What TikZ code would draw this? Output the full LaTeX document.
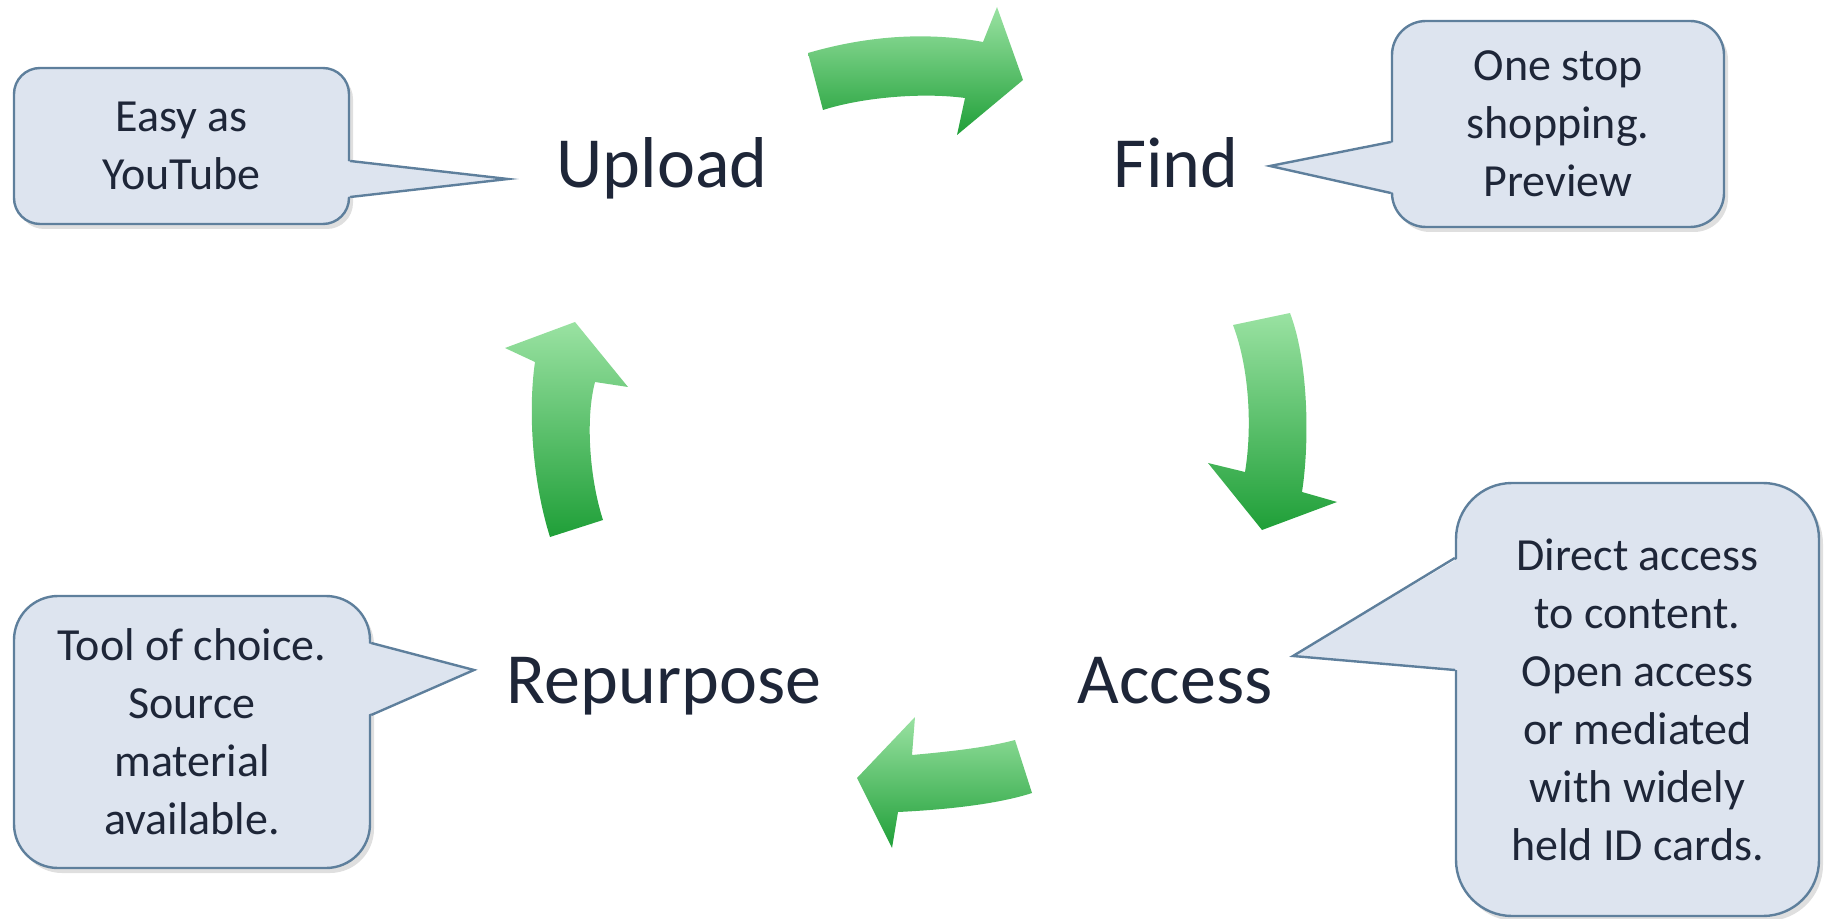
\documentclass[tikz,border=0pt]{standalone}
\usepackage{fontspec}
\setmainfont{Carlito}
\usetikzlibrary{calc,shadows}
\definecolor{bubblefill}{HTML}{DDE4EF}
\definecolor{bubbleline}{HTML}{5E7F9C}
\definecolor{inkblue}{HTML}{1E2638}
\definecolor{greenlight}{HTML}{9AE2A2}
\definecolor{greendark}{HTML}{1F9F38}
\tikzstyle{stage} = [text=inkblue, font=\fontsize{36}{43}\selectfont, anchor=base, inner sep=0pt]
\tikzstyle{bubble} = [draw=bubbleline, fill=bubblefill, line width=1.2pt, align=center, text=inkblue, font=\fontsize{23}{29}\selectfont, inner sep=0pt, drop shadow={shadow xshift=2pt, shadow yshift=-2.5pt, opacity=0.25}]
\tikzstyle{beak} = [fill=bubblefill]
\tikzstyle{beakline} = [draw=bubbleline, line width=1.2pt, line join=miter]
\tikzstyle{greenbend} = [top color=greenlight, bottom color=greendark, draw=none]

\begin{document}
\begin{tikzpicture}[x=0.5pt,y=-0.5pt]
      \useasboundingbox (0,0) rectangle (1826,919);
      % the four stages
      \node[stage] (upload) at (662,188) {Upload};
      \node[stage] (find) at (1176,188) {Find};
      \node[stage] (access) at (1175,703) {Access};
      \node[stage] (repurpose) at (664,703) {Repurpose};
      % bubbles
      \node[bubble, rounded corners=13pt, minimum width=167.5pt, minimum height=78pt] (easy) at (181.5,146) {Easy as\\YouTube};
      \node[bubble, rounded corners=17pt, minimum width=166pt, minimum height=103pt] (onestop) at (1558,124) {One stop\\shopping.\\Preview};
      \node[bubble, rounded corners=28pt, minimum width=181.5pt, minimum height=216.5pt] (direct) at (1637.5,699.5) {Direct access\\to content.\\Open access\\or mediated\\with widely\\held ID cards.};
      \node[bubble, rounded corners=22pt, minimum width=178pt, minimum height=136pt] (tool) at (192,732) {Tool of choice.\\Source\\material\\available.};
      \coordinate (tipU) at (508,179);
      \coordinate (tipF) at (1270,166);
      \coordinate (tipA) at (1293,656);
      \coordinate (tipR) at (474,670);
      % pointers
      \fill[beak] ($(easy.east)+(-4,15)$) -- (tipU) -- ($(easy.east)+(-4,51)$) -- cycle;
      \draw[beakline] ($(easy.east)+(0,15)$) -- (tipU) -- ($(easy.east)+(0,51)$);
      \fill[beak] ($(onestop.west)+(4,18)$) -- (tipF) -- ($(onestop.west)+(4,69)$) -- cycle;
      \draw[beakline] ($(onestop.west)+(0,18)$) -- (tipF) -- ($(onestop.west)+(0,69)$);
      \fill[beak] ($(direct.west)+(4,-141.5)$) -- (tipA) -- ($(direct.west)+(4,-29.5)$) -- cycle;
      \draw[beakline] ($(direct.west)+(0,-141.5)$) -- (tipA) -- ($(direct.west)+(0,-29.5)$);
      \fill[beak] ($(tool.east)+(-4,-89)$) -- (tipR) -- ($(tool.east)+(-4,-17)$) -- cycle;
      \draw[beakline] ($(tool.east)+(0,-89)$) -- (tipR) -- ($(tool.east)+(0,-17)$);
      % green arrows
      \path[greenbend] (808,53) .. controls (880,32) and (940,34) .. (983,42) -- (997,7) -- (1023,80) -- (957,135) -- (965,98) .. controls (920,92) and (860,98) .. (823,110) -- cycle;
      \path[greenbend] (1233,325) .. controls (1250,370) and (1252,430) .. (1245,472) -- (1208,463) -- (1262,530) -- (1337,502) -- (1302,492) .. controls (1310,440) and (1308,360) .. (1290,313) -- cycle;
      \path[greenbend] (1015,740) .. controls (985,748) and (945,752) .. (912,755) -- (915,717) -- (857,778) -- (892,848) -- (898,812) .. controls (940,810) and (995,805) .. (1032,793) -- cycle;
      \path[greenbend] (550,537) .. controls (532,480) and (528,410) .. (535,362) -- (505,348) -- (575,322) -- (628,387) -- (595,382) .. controls (585,420) and (590,480) .. (603,520) -- cycle;
\end{tikzpicture}
\end{document}
